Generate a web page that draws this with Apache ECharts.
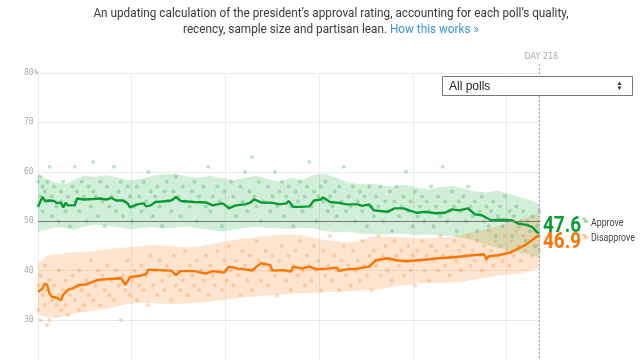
<!DOCTYPE html>
<html><head><meta charset="utf-8">
<script src="https://cdn.jsdelivr.net/npm/echarts@6/dist/echarts.min.js"></script>
<style>html,body{margin:0;padding:0;background:#fff}#c{width:640px;height:360px}</style>
</head><body><div id="c"></div>
<script>
// ---- DATA ----
const yTickValues = [20, 30, 40, 50, 60, 70, 80];
const currentDay = 218;
const approveNow = '47.6';
const disapproveNow = '46.9';

const approveDays = [0,2,3,5,7,8,10,11,12,13,16,17,20,24,27,30,32,34,37,39,40,43,46,47,49,51,54,58,60,62,68,73,76,80,81,83,86,90,92,94,97,102,105,108,109,111,114,118,120,123,124,127,131,134,139,141,144,146,152,155,159,162,165,168,173,177,180,183,187,190,193,197,202,206,209,213,215,217,218];
const approveVals = [53.0,54.9,54.1,54.2,54.1,53.7,53.7,52.8,53.7,53.2,53.2,54.6,54.4,54.5,54.6,54.4,54.7,54.2,54.2,53.6,52.8,53.4,53.6,53.0,53.2,53.9,54.0,54.2,54.9,54.1,53.9,53.8,53.2,53.6,53.4,52.6,53.2,53.4,53.7,54.4,53.8,53.7,53.4,53.6,54.1,52.9,52.9,53.0,54.2,54.4,54.8,53.9,53.7,53.4,53.4,53.1,53.4,52.2,51.9,52.6,52.6,52.1,51.7,51.9,51.6,51.7,52.4,52.2,52.6,51.4,51.2,50.2,50.3,50.2,49.5,49.2,48.8,47.8,47.6];

const disapproveDays = [0,2,3,4,5,6,8,10,11,13,15,18,21,26,28,34,36,38,40,44,47,48,53,58,60,62,68,73,76,81,83,87,91,93,97,101,102,107,110,111,115,118,121,126,130,131,133,139,144,147,152,156,160,165,170,174,181,189,194,195,196,200,205,209,212,215,217,218];
const disapproveVals = [35.7,36.4,37.4,37.1,35.4,34.7,34.5,34.0,35.1,36.1,36.4,37.1,37.2,38.1,38.2,38.4,38.5,37.1,38.7,38.9,39.3,40.2,40.1,40.0,39.1,39.9,39.9,39.4,39.9,39.6,40.8,40.4,40.2,40.0,41.5,41.1,40.0,40.1,39.8,40.8,40.4,40.8,40.3,40.4,40.6,39.9,40.2,40.4,40.8,42.1,42.5,42.1,41.9,42.1,42.3,42.5,42.7,43.1,43.3,42.3,42.9,43.1,43.6,44.5,45.2,46.2,47.0,46.9];

const bandDays = [0,4,8,12,16,20,25,30,35,40,45,50,55,60,65,70,75,80,85,90,95,100,105,110,115,120,125,130,135,140,145,150,155,160,165,170,175,180,185,190,195,200,205,210,214,218];
const approveHigh = [59.5,58.5,57.8,57.5,58.5,59.2,59.0,59.3,58.8,58.3,58.6,59.2,59.5,59.6,59.0,58.8,59.2,58.7,58.3,58.8,59.2,58.5,58.0,58.8,58.3,59.4,59.6,58.7,57.8,57.5,57.6,57.2,57.0,57.4,56.8,56.4,56.9,57.2,56.6,56.0,55.8,56.2,55.5,54.8,54.3,53.5];
const approveLow = [47.8,48.3,48.8,48.6,48.2,48.9,49.3,49.1,48.8,48.3,48.6,48.9,48.5,48.7,49.0,48.5,48.2,47.9,48.3,48.6,48.9,48.6,48.5,48.4,48.6,48.5,48.0,47.7,47.9,47.5,47.4,47.3,47.5,47.4,47.2,47.3,47.1,47.0,46.6,46.0,45.3,44.6,44.2,43.6,43.2,42.7];
const disapproveHigh = [41.5,43.0,43.3,43.5,43.7,43.8,44.0,44.3,44.5,44.8,45.0,45.2,45.1,44.9,44.7,44.9,45.3,45.8,46.2,46.5,46.8,47.0,47.2,47.3,47.1,46.6,46.2,45.9,45.7,46.0,46.8,46.9,46.8,46.7,46.5,46.6,46.7,46.9,47.3,47.9,48.4,49.0,49.6,50.3,51.0,51.5];
const disapproveLow = [31.0,30.6,30.4,30.8,31.3,31.6,31.9,32.3,32.8,33.3,33.5,33.4,33.3,33.2,33.4,33.5,33.8,34.0,34.3,34.6,34.8,35.0,35.1,35.3,35.4,35.5,35.6,35.7,35.8,35.9,36.1,36.4,36.8,37.1,37.4,37.5,37.5,37.6,37.8,38.2,38.6,39.0,39.2,39.5,40.0,40.4];

const approvePolls = [[0,58],[0,53],[1,59],[1,55],[2,57],[2,52],[3,56],[4,54],[4,58],[5,61],[6,51],[6,55],[7,57],[8,53],[9,50],[10,56],[10,54],[11,58],[12,52],[13,55],[14,49],[15,57],[16,61],[16,54],[17,56],[18,52],[19,58],[20,55],[21,50],[22,57],[23,53],[24,62],[24,56],[25,55],[26,51],[27,58],[28,54],[29,49],[30,57],[31,53],[32,55],[33,61],[34,52],[35,56],[36,58],[37,51],[38,54],[39,57],[40,55],[41,50],[42,53],[43,57],[44,55],[45,52],[46,58],[47,54],[48,60],[49,56],[50,51],[51,55],[52,57],[53,53],[54,49],[55,56],[56,58],[57,54],[58,52],[59,56],[60,59],[61,55],[62,51],[63,57],[64,54],[66,53],[67,56],[68,58],[69,50],[70,55],[72,57],[73,53],[74,61],[75,52],[76,55],[78,57],[79,54],[80,49],[81,56],[83,53],[84,58],[85,55],[86,51],[88,57],[89,54],[90,60],[91,52],[92,56],[93,63],[94,55],[95,53],[96,58],[97,50],[98,54],[100,57],[101,52],[102,55],[103,60],[104,53],[105,56],[106,58],[107,51],[108,55],[109,57],[110,53],[111,49],[112,56],[113,54],[114,58],[115,52],[116,55],[117,57],[118,62],[119,53],[120,56],[121,50],[122,55],[123,57],[124,54],[125,58],[126,52],[127,55],[128,53],[129,56],[130,51],[131,57],[132,54],[133,61],[134,52],[135,55],[136,53],[137,57],[138,50],[139,54],[140,56],[141,52],[142,55],[143,49],[144,57],[145,53],[146,51],[147,55],[148,53],[149,57],[150,50],[151,54],[152,52],[153,56],[154,48],[155,54],[156,57],[157,51],[158,53],[159,55],[160,60],[161,52],[162,54],[163,49],[164,56],[165,51],[166,53],[167,55],[168,50],[169,54],[170,52],[171,57],[172,49],[173,53],[174,55],[175,51],[176,61],[177,54],[178,50],[179,52],[180,56],[181,53],[182,48],[183,54],[184,52],[185,55],[186,50],[187,57],[188,53],[189,51],[190,54],[191,48],[192,52],[193,55],[194,50],[195,53],[196,49],[197,52],[198,54],[199,47],[200,51],[201,53],[202,49],[203,55],[204,50],[205,52],[206,47],[207,51],[208,53],[209,49],[210,50],[211,52],[212,46],[213,50],[214,48],[215,51],[216,45],[217,49],[218,47],[218,52]];

const disapprovePolls = [[0,32],[0,37],[1,30],[1,39],[2,35],[3,41],[3,33],[4,36],[4,29],[5,30],[5,38],[6,34],[7,37],[8,33],[9,40],[9,35],[10,32],[11,36],[12,38],[12,33],[13,31],[14,35],[15,39],[16,34],[17,37],[18,32],[18,40],[19,36],[20,33],[21,38],[22,35],[23,42],[24,34],[25,37],[26,40],[27,33],[28,39],[29,36],[30,41],[31,35],[32,38],[33,34],[34,40],[35,37],[36,30],[37,39],[38,36],[39,42],[40,35],[41,38],[42,40],[43,34],[44,37],[45,41],[46,36],[47,39],[48,33],[49,43],[50,37],[51,40],[52,35],[53,42],[54,38],[55,36],[56,41],[57,39],[58,34],[59,43],[60,37],[61,40],[62,36],[63,38],[64,44],[65,35],[66,41],[67,39],[68,37],[69,42],[70,36],[71,40],[72,38],[73,43],[74,35],[75,41],[76,39],[77,37],[78,44],[79,40],[80,36],[81,42],[82,38],[83,45],[84,40],[85,37],[86,42],[87,39],[88,35],[89,44],[90,41],[91,38],[92,43],[93,36],[94,40],[95,46],[96,42],[97,38],[98,41],[99,44],[100,37],[101,40],[102,43],[103,39],[104,35],[105,42],[106,45],[107,40],[108,38],[109,43],[110,36],[111,41],[112,44],[113,39],[114,46],[115,40],[116,37],[117,43],[118,41],[119,38],[120,45],[121,40],[122,42],[123,36],[124,44],[125,39],[126,41],[127,47],[128,38],[129,43],[130,40],[131,36],[132,42],[133,45],[134,39],[135,41],[136,37],[137,44],[138,40],[139,42],[140,38],[141,46],[142,41],[143,39],[144,43],[145,36],[146,44],[147,41],[148,47],[149,39],[150,43],[151,45],[152,40],[153,42],[154,38],[155,46],[156,43],[157,41],[158,44],[159,39],[160,42],[161,45],[162,40],[163,43],[164,37],[165,44],[166,42],[167,46],[168,40],[169,43],[170,38],[171,45],[172,42],[173,44],[174,40],[175,47],[176,43],[177,41],[178,45],[179,39],[180,43],[181,46],[182,42],[183,44],[184,40],[185,45],[186,43],[187,47],[188,41],[189,44],[190,42],[191,46],[192,43],[193,40],[194,45],[195,42],[196,48],[197,44],[198,41],[199,46],[200,43],[201,45],[202,42],[203,47],[204,44],[205,41],[206,46],[207,43],[208,48],[209,45],[210,42],[211,47],[212,44],[213,49],[214,46],[215,43],[216,48],[217,45],[218,50],[218,44]];

// ---- CHART ----
const GREEN = '#0a9c34', ORANGE = '#ff7300';
const chart = echarts.init(document.getElementById('c'), null, {renderer: 'canvas'});
const pair = (xs, ys) => xs.map((d, i) => [d, ys[i]]);

function bandSeries(high, low, color) {
  return {
    type: 'custom', silent: true, z: 1,
    data: bandDays.map((d, i) => [d, low[i], high[i]]),
    encode: {x: 0, y: [1, 2]},
    renderItem: function (params, api) {
      if (params.dataIndex !== 0) return null;
      const top = bandDays.map((d, i) => api.coord([d, high[i]]));
      const bot = bandDays.map((d, i) => api.coord([d, low[i]])).reverse();
      return {type: 'polygon', shape: {points: top.concat(bot)}, style: {fill: color}};
    }
  };
}

chart.setOption({
  animation: false,
  grid: {left: 38, top: 73, width: 501.3, height: 296.4, outerBoundsMode: 'none', containLabel: false},
  xAxis: {
    type: 'value', min: 0, max: currentDay, interval: 40.75,
    axisLine: {show: false}, axisTick: {show: false}, axisLabel: {show: false},
    splitLine: {show: true, lineStyle: {color: '#ececec', width: 1}}
  },
  yAxis: {
    type: 'value', min: yTickValues[0], max: yTickValues[yTickValues.length - 1], interval: 10,
    axisLine: {show: false}, axisTick: {show: false},
    axisLabel: {
      align: 'left', margin: 14, color: '#aaa', fontSize: 8, fontFamily: 'DejaVu Sans Mono',
      formatter: v => v === 80 ? v + '%' : String(v)
    },
    splitLine: {lineStyle: {color: '#e9e9e9', width: 1}}
  },
  series: [
    bandSeries(approveHigh, approveLow, 'rgba(20,170,60,0.2)'),
    bandSeries(disapproveHigh, disapproveLow, 'rgba(255,125,20,0.2)'),
    {type: 'scatter', data: approvePolls, symbolSize: 4, silent: true,
     itemStyle: {color: 'rgba(50,165,85,0.38)'}, z: 2},
    {type: 'scatter', data: disapprovePolls, symbolSize: 4, silent: true,
     itemStyle: {color: 'rgba(250,140,60,0.42)'}, z: 2},
    {type: 'line', data: pair(approveDays, approveVals), symbol: 'none', silent: true,
     lineStyle: {color: GREEN, width: 2.4}, z: 4,
     markLine: {silent: true, symbol: 'none', label: {show: false},
       lineStyle: {color: '#7a7a7a', width: 1, type: 'solid'}, data: [{yAxis: 50}]}},
    {type: 'line', data: pair(disapproveDays, disapproveVals), symbol: 'none', silent: true,
     lineStyle: {color: ORANGE, width: 2.4}, z: 4}
  ]
});

const xNow = chart.convertToPixel({xAxisIndex: 0}, currentDay);

chart.setOption({
  graphic: [
    {type: 'line', z: 50, shape: {x1: xNow, y1: 64, x2: xNow, y2: 360},
     style: {stroke: '#9a9a9a', lineWidth: 1, lineDash: [2, 2]}},
    {type: 'text', z: 50, x: xNow + 2, y: 57,
     style: {text: 'DAY ' + currentDay, font: '8px "DejaVu Sans"', fill: '#aaa', align: 'center', verticalAlign: 'middle'}},
    {type: 'text', z: 50, x: 331, y: 13.5, scaleX: 0.905,
     style: {text: "An updating calculation of the president\u2019s approval rating, accounting for each poll\u2019s quality,",
       font: '13px Roboto', fill: '#3a3a3a', align: 'center', verticalAlign: 'middle'}},
    {type: 'text', z: 50, x: 331, y: 29.5, scaleX: 0.905,
     style: {text: '{a|recency, sample size and partisan lean. }{b|How this works \u00bb}',
       font: '13px Roboto', align: 'center', verticalAlign: 'middle',
       rich: {a: {fill: '#3a3a3a', font: '13px Roboto'}, b: {fill: '#3b97d3', font: '13px Roboto'}}}},
    {type: 'rect', z: 60, shape: {x: 442.5, y: 76.5, width: 190, height: 19},
     style: {fill: '#fff', stroke: '#777', lineWidth: 1}},
    {type: 'text', z: 61, x: 449, y: 86.5,
     style: {text: 'All polls', font: '12px "Liberation Sans"', fill: '#222', verticalAlign: 'middle'}},
    {type: 'polygon', z: 61, shape: {points: [[617.5, 85], [621.5, 85], [619.5, 81.5]]}, style: {fill: '#333'}},
    {type: 'polygon', z: 61, shape: {points: [[617.5, 86.5], [621.5, 86.5], [619.5, 90]]}, style: {fill: '#333'}},
    {type: 'text', z: 60, x: 543, y: 226.5, scaleX: 0.86,
     style: {text: approveNow, font: 'bold 22px Roboto', fill: GREEN, verticalAlign: 'middle'}},
    {type: 'text', z: 60, x: 582, y: 221,
     style: {text: '%', font: '8px Roboto', fill: GREEN, verticalAlign: 'middle'}},
    {type: 'text', z: 60, x: 591, y: 223.5, scaleX: 0.88,
     style: {text: 'Approve', font: '10px Roboto', fill: '#444', verticalAlign: 'middle'}},
    {type: 'text', z: 60, x: 543, y: 242.5, scaleX: 0.86,
     style: {text: disapproveNow, font: 'bold 22px Roboto', fill: ORANGE, verticalAlign: 'middle'}},
    {type: 'text', z: 60, x: 582, y: 237,
     style: {text: '%', font: '8px Roboto', fill: ORANGE, verticalAlign: 'middle'}},
    {type: 'text', z: 60, x: 591, y: 238.5, scaleX: 0.88,
     style: {text: 'Disapprove', font: '10px Roboto', fill: '#444', verticalAlign: 'middle'}}
  ]
});
</script>
</body></html>
